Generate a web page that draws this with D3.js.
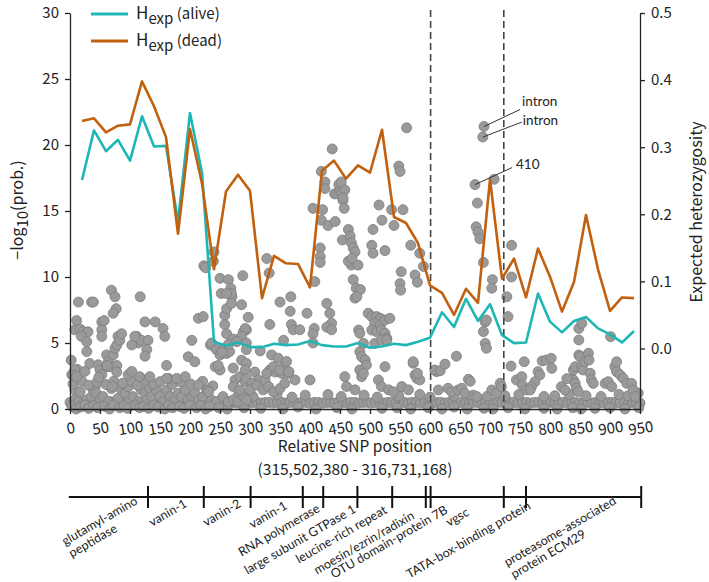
<!DOCTYPE html>
<html><head><meta charset="utf-8">
<script src="https://cdn.jsdelivr.net/npm/d3@7"></script>
<style>body{margin:0;background:#fff}</style>
</head><body>
<svg id="chart" width="709" height="582"></svg>
<script>
// ---------- DATA ----------
const windowPos = [20,40,60,80,100,120,140,160,180,200,220,240,260,280,300,320,340,360,380,400,420,440,460,480,500,520,540,560,580,600,620,640,660,680,700,720,740,760,780,800,820,840,860,880,900,920,940];
const hexpAlive = [0.251,0.325,0.294,0.311,0.280,0.346,0.301,0.302,0.189,0.351,0.262,0.010,0.004,0.009,0.002,0.002,0.007,0.005,0.006,0.011,0.005,0.003,0.003,0.008,0.001,0.003,0.007,0.005,0.010,0.016,0.054,0.032,0.074,0.041,0.066,0.020,0.008,0.009,0.082,0.040,0.024,0.041,0.047,0.030,0.021,0.009,0.026];
const hexpDead = [0.339,0.343,0.322,0.332,0.334,0.398,0.361,0.315,0.171,0.327,0.246,0.118,0.234,0.259,0.235,0.075,0.138,0.127,0.126,0.091,0.265,0.280,0.253,0.273,0.262,0.326,0.196,0.187,0.157,0.094,0.083,0.050,0.089,0.068,0.252,0.104,0.134,0.076,0.149,0.107,0.055,0.099,0.199,0.118,0.056,0.076,0.075];

// SNPs: [relative position, -log10(prob.)]
const snpsUpper = [
[2,3.7],[11,6.7],[8,6.0],[17,6.05],[22,5.85],[30,5.85],[19,5.5],[28,5.1],[28,4.35],[14,8.1],[36,8.1],[39,8.1],
[3,2.6],[12,3.0],[8,2.95],[5,2.55],[11,2.45],[25,2.85],[33,3.45],[47,3.35],[50,2.95],[53,2.6],[48,2.4],
[53,6.6],[53,6.0],[53,5.5],[57,6.7],[61,4.1],[61,3.2],[64,3.6],[67,3.2],[69,9.0],[75,8.5],[77,7.6],[72,7.25],
[72,4.1],[75,4.6],[78,3.3],[78,2.8],[78,4.85],[80,5.5],[83,5.2],[86,5.7],[71,1.7],[62,3.3],[97,2.6],[103,2.85],
[111,5.5],[114,5.0],[119,5.2],[130,5.2],[128,4.5],[125,4.0],[103,4.85],[108,5.5],
[117,8.5],[125,6.6],[142,6.6],[155,6.1],[158,5.5],[161,3.3],[165,2.3],[116,2.45],[133,2.45],[150,2.07],[161,2.32],
[178,2.32],[192,2.45],[214,1.82],[230,1.44],[197,3.96],[208,3.58],[203,5.2],[214,6.87],[222,7.0],
[223,10.85],[226,10.7],[240,11.9],[239,11.2],[250,9.9],[252,8.75],[264,9.8],[268,9.15],[270,8.5],[288,10.1],
[286,7.9],[297,6.95],[294,6.0],[231,1.3],[234,4.85],
[236,5.0],[244,4.5],[250,4.1],[255,4.5],[261,4.2],[266,4.35],[242,3.2],[250,2.95],[247,3.3],[258,7.1],[258,6.4],
[261,5.7],[261,7.6],[269,8.75],[269,8.0],[261,8.75],[272,3.1],[275,2.2],[283,2.45],[292,2.1],[286,3.7],[294,3.45],
[272,1.7],[283,1.45],[289,5.85],[292,6.1],[286,5.5],[294,5.0],[294,4.5],[272,5.3],[264,4.9],[253,4.3],[278,5.1],
[317,4.4],[336,4.1],[328,11.4],[332,10.3],[333,6.4],[350,8.1],[368,8.5],[367,7.4],[369,6.4],[372,6.0],[356,5.2],
[383,6.0],[395,7.25],[407,6.1],[408,9.65],[405,15.2],[405,5.7],[405,5.0],[292,2.95],[308,2.8],[314,2.2],[333,2.95],
[342,2.8],[347,3.85],[353,2.7],[356,3.2],[361,3.6],[375,2.2],[400,2.2],[294,2.3],[303,1.95],[300,1.45],[311,1.8],
[322,1.45],[325,2.2],[331,1.7],[339,1.3],[350,1.55],[358,1.95],[364,2.7],[328,2.7],[339,3.2],[349,2.95],[365,2.83],
[417,12.2],[417,11.55],[417,11.1],[421,15.1],[419,18.0],[425,17.2],[425,16.7],[419,14.3],[430,13.9],[428,8.0],
[433,7.25],[436,6.5],[428,6.2],[436,6.0],[437,19.7],[441,16.3],[445,16.3],[448,17.0],[450,16.5],[452,17.2],
[453,16.4],[442,14.2],[455,15.8],[457,15.2],[454,12.8],[464,13.6],[467,13.1],[469,12.6],[472,12.2],[475,11.9],
[469,10.9],[464,11.2],[472,9.8],[477,9.15],[475,8.4],[458,16.6],[455,16.0],[458,2.45],[461,1.7],[475,1.45],
[481,5.98],[483,5.73],[489,4.97],[483,4.34],[486,3.96],[492,3.71],[494,3.33],[483,2.96],[486,2.45],[489,2.7],
[470,11.4],[480,10.9],[484,9.05],[478,8.5],
[505,13.6],[503,12.4],[505,11.8],[525,12.0],[520,14.3],[515,15.45],[552,10.4],[550,9.5],[551,9.0],[555,15.1],
[548,18.4],[550,18.0],[561,21.3],[568,12.4],[575,10.15],[579,9.6],[583,11.8],[589,10.8],[540,13.9],[536,15.1],
[497,7.25],[503,7.0],[511,7.0],[517,6.87],[508,6.5],[517,6.36],[525,6.74],[533,6.87],[503,5.98],[511,5.85],
[519,5.98],[525,5.73],[528,5.35],[508,4.97],[519,5.23],[528,5.23],[525,3.21],[572,3.46],[575,2.58],[578,2.32],
[583,2.2],[514,2.2],[519,1.7],[531,1.45],[539,1.3],[553,1.7],[564,1.45],[572,3.58],[579,2.7],[611,2.83],
[608,2.95],[614,1.44],[617,2.9],[625,3.4],[630,1.57],[636,1.31],[644,4.0],[647,1.44],[653,1.57],[658,1.19],
[664,2.25],[667,2.1],[678,0.94],[703,1.44],[711,1.19],[717,1.95],[719,1.69],[675,17.0],[679,15.6],[677,13.8],
[680,13.4],[683,12.9],[689,11.1],[690,21.4],[688,20.6],[707,17.4],[704,9.8],[703,9.15],[692,6.6],[694,6.74],
[689,5.86],[692,4.97],[694,4.6],
[728,8.5],[730,7.0],[736,12.4],[736,10.0],[735,3.25],[744,2.2],[753,2.45],[754,1.82],[761,1.44],[757,3.58],
[780,2.83],[783,2.58],[787,3.64],[794,3.71],[802,3.84],[803,3.08],[775,2.07],[769,1.69],[767,1.44],[819,1.69],
[825,1.44],[836,2.32],[839,2.2],[842,1.94],[844,1.57],[847,1.31],[839,2.96],[842,3.21],[848,4.09],[850,3.96],
[853,3.21],[855,2.96],[858,3.58],[864,4.22],[865,3.71],[867,2.7],[869,2.2],[872,1.94],[848,6.1],[853,6.49],
[848,5.23],[901,5.48],[892,1.94],[897,2.07],[903,1.69],[908,3.21],[911,2.83],[917,2.58],[922,2.32],[928,1.94],
[936,1.94],[939,1.44],[942,0.94],[911,3.58],[828,2.3]
];
const snpsLowCloud = [
[8,1.44],[17,1.3],[8,0.68],[14,0.56],[22,0.43],[28,0.68],[36,0.94],[39,1.44],[42,1.69],[44,1.19],[50,0.68],
[55,0.94],[64,0.56],[69,1.55],[75,0.43],[80,0.81],[86,1.44],[92,1.19],[97,1.69],[100,0.68],[105,0.94],[114,0.56],
[119,1.44],[125,1.19],[128,0.68],[133,1.57],[136,0.94],[144,1.44],[150,0.94],[155,0.56],[161,1.44],[167,0.94],
[175,0.68],[180,1.19],[186,0.94],[192,1.44],[197,0.68],[203,0.94],[208,1.19],[214,0.68],[222,0.94],[228,1.44],
[236,0.68],[244,0.56],[255,0.94],[264,0.56],[272,0.68],[280,0.56],[289,0.94],[294,0.68],
[3,0.2],[10,0.0],[18,0.15],[25,0.3],[31,0.05],[40,0.25],[46,0.1],[58,0.2],[66,0.0],[72,0.3],[83,0.1],[90,0.25],
[96,0.05],[109,0.3],[116,0.1],[122,0.2],[131,0.05],[140,0.3],[147,0.15],[158,0.0],[164,0.3],[171,0.1],[183,0.2],
[190,0.05],[200,0.3],[211,0.1],[218,0.25],[226,0.0],[233,0.2],[248,0.1],
[5,1.9],[20,2.1],[31,1.8],[45,2.05],[60,1.85],[73,2.1],[88,1.95],[103,2.1],[112,1.8],[127,2.15],[139,1.9],
[170,1.85],[184,2.05],[201,1.9],[221,2.1],[238,1.75]
];
const snpsBaseline = [
[0,0.5],[6,0.45],[13,0.55],[19,0.5],[26,0.45],[33,0.5],[40,0.55],[47,0.5],[53,0.45],[60,0.5],[67,0.55],[74,0.5],
[81,0.45],[87,0.5],[94,0.5],[101,0.55],[108,0.45],[115,0.5],[121,0.5],[128,0.45],[135,0.55],[142,0.5],[149,0.5],
[156,0.45],[162,0.5],[169,0.55],[176,0.5],[183,0.45],[190,0.5],[196,0.5],[203,0.55],[210,0.5],[217,0.45],[224,0.5],
[230,0.5],[237,0.45],[244,0.5],[251,0.5],[258,0.45],[264,0.5],[271,0.5],[278,0.45],[285,0.5],[292,0.5],[298,0.45],
[305,0.5],[312,0.5],[319,0.45],[326,0.5],[332,0.5],[339,0.45],[346,0.5],[353,0.5],[360,0.45],[366,0.5],[373,0.5],
[380,0.45],[387,0.5],[394,0.5],[400,0.45],[407,0.5],[414,0.5],[421,0.45],[428,0.5],[434,0.5],[441,0.45],[448,0.5],
[455,0.5],[462,0.45],[468,0.5],[475,0.5],[482,0.45],[489,0.5],[496,0.5],[502,0.45],[509,0.5],[516,0.5],[523,0.45],
[530,0.5],[536,0.5],[543,0.45],[550,0.5],[557,0.5],[564,0.45],[570,0.5],[577,0.5],[584,0.45],[591,0.5],[598,0.5],
[604,0.45],[611,0.5],[618,0.5],[625,0.45],[632,0.5],[638,0.5],[645,0.45],[652,0.5],[659,0.5],[666,0.45],[672,0.5],
[679,0.5],[686,0.45],[693,0.5],[700,0.5],[706,0.45],[713,0.5],[720,0.5],[727,0.45],[734,0.5],[740,0.5],[747,0.45],
[754,0.5],[761,0.5],[768,0.45],[774,0.5],[781,0.5],[788,0.45],[795,0.5],[802,0.5],[808,0.45],[815,0.5],[822,0.5],
[829,0.45],[836,0.5],[842,0.5],[849,0.45],[856,0.5],[863,0.5],[870,0.45],[876,0.5],[883,0.5],[890,0.45],[897,0.5],
[904,0.5],[910,0.45],[917,0.5],[924,0.5],[931,0.45],[938,0.5],[944,0.5],[950,0.45],
[262,0.0],[290,0.1],[318,0.05],[355,0.0],[380,0.15],[410,0.0],[445,0.1],[470,0.0],[520,0.05],[545,0.1],[568,0.0],
[597,0.1],[620,0.0],[640,0.15],[662,0.0],[690,0.05],[705,0.0],[730,0.1],[758,0.0],[790,0.05],[812,0.0],[838,0.1],
[852,0.0],[875,0.05],[900,0.1],[925,0.0],[948,0.1],
[280,1.0],[305,0.95],[345,1.1],[370,0.9],[392,1.05],[430,1.1],[452,0.95],[490,1.05],[512,0.9],[548,1.0],[583,1.1],
[600,0.9],[640,1.0],[672,1.05],[695,0.95],[725,1.0],[748,1.1],[790,0.95],[808,1.0],[832,1.1],[860,1.0],[885,0.95],
[915,1.1],[930,1.0],[947,1.2]
];

const xTicks = [0,50,100,150,200,250,300,350,400,450,500,550,600,650,700,750,800,850,900,950];
const yLeftTicks = [0,5,10,15,20,25,30];
const yRightTicks = [0,0.1,0.2,0.3,0.4,0.5];

// gene track: segment boundaries (relative SNP position) and labels
const geneBounds = [0,130,223,301,388,422,479,537,593,601,723,760,952];
const geneNames = [
  ["glutamyl-amino","peptidase"],["vanin-1"],["vanin-2"],["vanin-1"],["RNA polymerase"],
  ["large subunit GTPase 1"],["leucine-rich repeat"],["moesin/ezrin/radixin"],["OTU domain-protein 7B"],
  ["vgsc"],["TATA-box-binding protein"],["proteasome-associated","protein ECM29"]
];
const annotations = [
  {pos:690, val:21.4, label:"intron"},
  {pos:688, val:20.6, label:"intron"},
  {pos:675, val:17.0, label:"410"}
];

// ---------- DRAW ----------
const svg = d3.select("#chart");
const axisFont = "'Noto Sans CJK JP','Noto Sans',sans-serif";
const labelFont = "Lato,'Open Sans',sans-serif";
const teal = "#1fb7b5", orange = "#c1600e";

const x = d3.scaleLinear().domain([0,950]).range([70,640]);
const yL = d3.scaleLinear().domain([0,30]).range([409,13]);
const yR = d3.scaleLinear().domain([-0.0902,0.5]).range([409,13]);

// SNP points
const allSnps = snpsBaseline.concat(snpsLowCloud, snpsUpper);
svg.append("g").selectAll("circle").data(allSnps).join("circle")
  .attr("cx", d => x(d[0])).attr("cy", d => yL(d[1])).attr("r", 5)
  .attr("fill", "#9a9a9a").attr("stroke", "#7d7d7d").attr("stroke-width", 0.8);

// dashed vgsc boundaries
const vgscIdx = 9;
[geneBounds[vgscIdx], geneBounds[vgscIdx+1]].forEach(b => {
  svg.append("line").attr("x1", x(b)).attr("x2", x(b)).attr("y1", 10).attr("y2", 409)
    .attr("stroke", "#444").attr("stroke-width", 1.6).attr("stroke-dasharray", "7,4");
});

// H_exp lines
const lineGen = arr => d3.line().x((d,i) => x(windowPos[i])).y(d => yR(d))(arr);
svg.append("path").attr("d", lineGen(hexpAlive)).attr("fill","none").attr("stroke",teal).attr("stroke-width",2.6).attr("stroke-linejoin","round");
svg.append("path").attr("d", lineGen(hexpDead)).attr("fill","none").attr("stroke",orange).attr("stroke-width",2.6).attr("stroke-linejoin","round");

// axes
function styleAxis(g){
  g.selectAll("path.domain").attr("stroke","#222").attr("stroke-width",1.3);
  g.selectAll(".tick line").attr("stroke","#222").attr("stroke-width",1.3);
  g.selectAll("text").attr("font-family",axisFont).attr("font-size",15).attr("fill","#222");
}
const gL = svg.append("g").attr("transform","translate(70,0)")
  .call(d3.axisLeft(yL).tickValues(yLeftTicks).tickSize(5).tickSizeOuter(0).tickPadding(6));
styleAxis(gL);
const gR = svg.append("g").attr("transform","translate(640,0)")
  .call(d3.axisRight(yR).tickValues(yRightTicks).tickSize(5).tickSizeOuter(0).tickPadding(6).tickFormat(d3.format(".1f")));
styleAxis(gR);
const gX = svg.append("g").attr("transform","translate(0,409)")
  .call(d3.axisBottom(x).tickValues(xTicks).tickSize(5).tickSizeOuter(0).tickPadding(6));
styleAxis(gX);
gX.selectAll(".tick text").attr("dy","0.9em").attr("transform","rotate(-9,0,18)");

// axis titles
svg.append("text").attr("x",355).attr("y",452).attr("text-anchor","middle")
  .attr("font-family",axisFont).attr("font-size",15.5).attr("fill","#222").text("Relative SNP position");
svg.append("text").attr("x",355).attr("y",475).attr("text-anchor","middle")
  .attr("font-family",axisFont).attr("font-size",15.5).attr("fill","#222").text("(315,502,380 - 316,731,168)");

const yt = svg.append("text").attr("transform","translate(23,210) rotate(-90)").attr("text-anchor","middle")
  .attr("font-family",axisFont).attr("font-size",16).attr("fill","#222");
yt.append("tspan").text("−log");
yt.append("tspan").attr("dy",5).attr("font-size",15).text("10");
yt.append("tspan").attr("dy",-5).text("(prob.)");

svg.append("text").attr("transform","translate(702,212) rotate(-90)").attr("text-anchor","middle")
  .attr("font-family",axisFont).attr("font-size",16).attr("fill","#222").text("Expected heterozygosity");

// legend
const legend = [{name:"(alive)", color:teal, y:14},{name:"(dead)", color:orange, y:41}];
legend.forEach(l => {
  svg.append("line").attr("x1",91).attr("x2",128).attr("y1",l.y).attr("y2",l.y).attr("stroke",l.color).attr("stroke-width",2.8);
  const t = svg.append("text").attr("x",136).attr("y",l.y+5).attr("font-family",axisFont).attr("font-size",17).attr("fill","#222");
  t.append("tspan").text("H");
  t.append("tspan").attr("dy",5).attr("font-size",15).text("exp");
  t.append("tspan").attr("dy",-5).attr("font-size",15).text(" " + l.name);
});

// annotations: leader line end and text baseline (pixel offsets from the point)
const annLayout = [
  {lx:36, ly:-17, tx:38, ty:-21},
  {lx:39, ly:-15, tx:40, ty:-12},
  {lx:37, ly:-17, tx:41, ty:-16}
];
annotations.forEach((a,i) => {
  const cx = x(a.pos), cy = yL(a.val), L = annLayout[i];
  svg.append("line").attr("x1",cx).attr("y1",cy).attr("x2",cx+L.lx).attr("y2",cy+L.ly).attr("stroke","#333").attr("stroke-width",1);
  svg.append("text").attr("x",cx+L.tx).attr("y",cy+L.ty).attr("font-family",labelFont).attr("font-size",13.5).attr("fill","#222").text(a.label);
});

// gene track
const trackY = 497;
svg.append("line").attr("x1",x(-2)).attr("x2",x(geneBounds[geneBounds.length-1])).attr("y1",trackY).attr("y2",trackY)
  .attr("stroke","#111").attr("stroke-width",2);
geneBounds.slice(1).forEach(b => {
  svg.append("line").attr("x1",x(b)).attr("x2",x(b)).attr("y1",trackY-11).attr("y2",trackY+11)
    .attr("stroke","#111").attr("stroke-width",2);
});
// label start anchors (relative position, y px)
const geneLabelAnchors = [[-12,542],[133,523],[223,523],[300,525],[282,553],[292,571],[378,560],[408,571],[436,575],[628,523],[562,575],[725,563]];
geneNames.forEach((lines,i) => {
  const [p, py] = geneLabelAnchors[i];
  const t = svg.append("text").attr("transform",`translate(${x(p)},${py}) rotate(-30)`)
    .attr("font-family",labelFont).attr("font-size",12.5).attr("fill","#222");
  lines.forEach((ln,j) => t.append("tspan").attr("x",0).attr("dy", j===0 ? "0.35em" : "1.1em").text(ln));
});
</script>
</body></html>
